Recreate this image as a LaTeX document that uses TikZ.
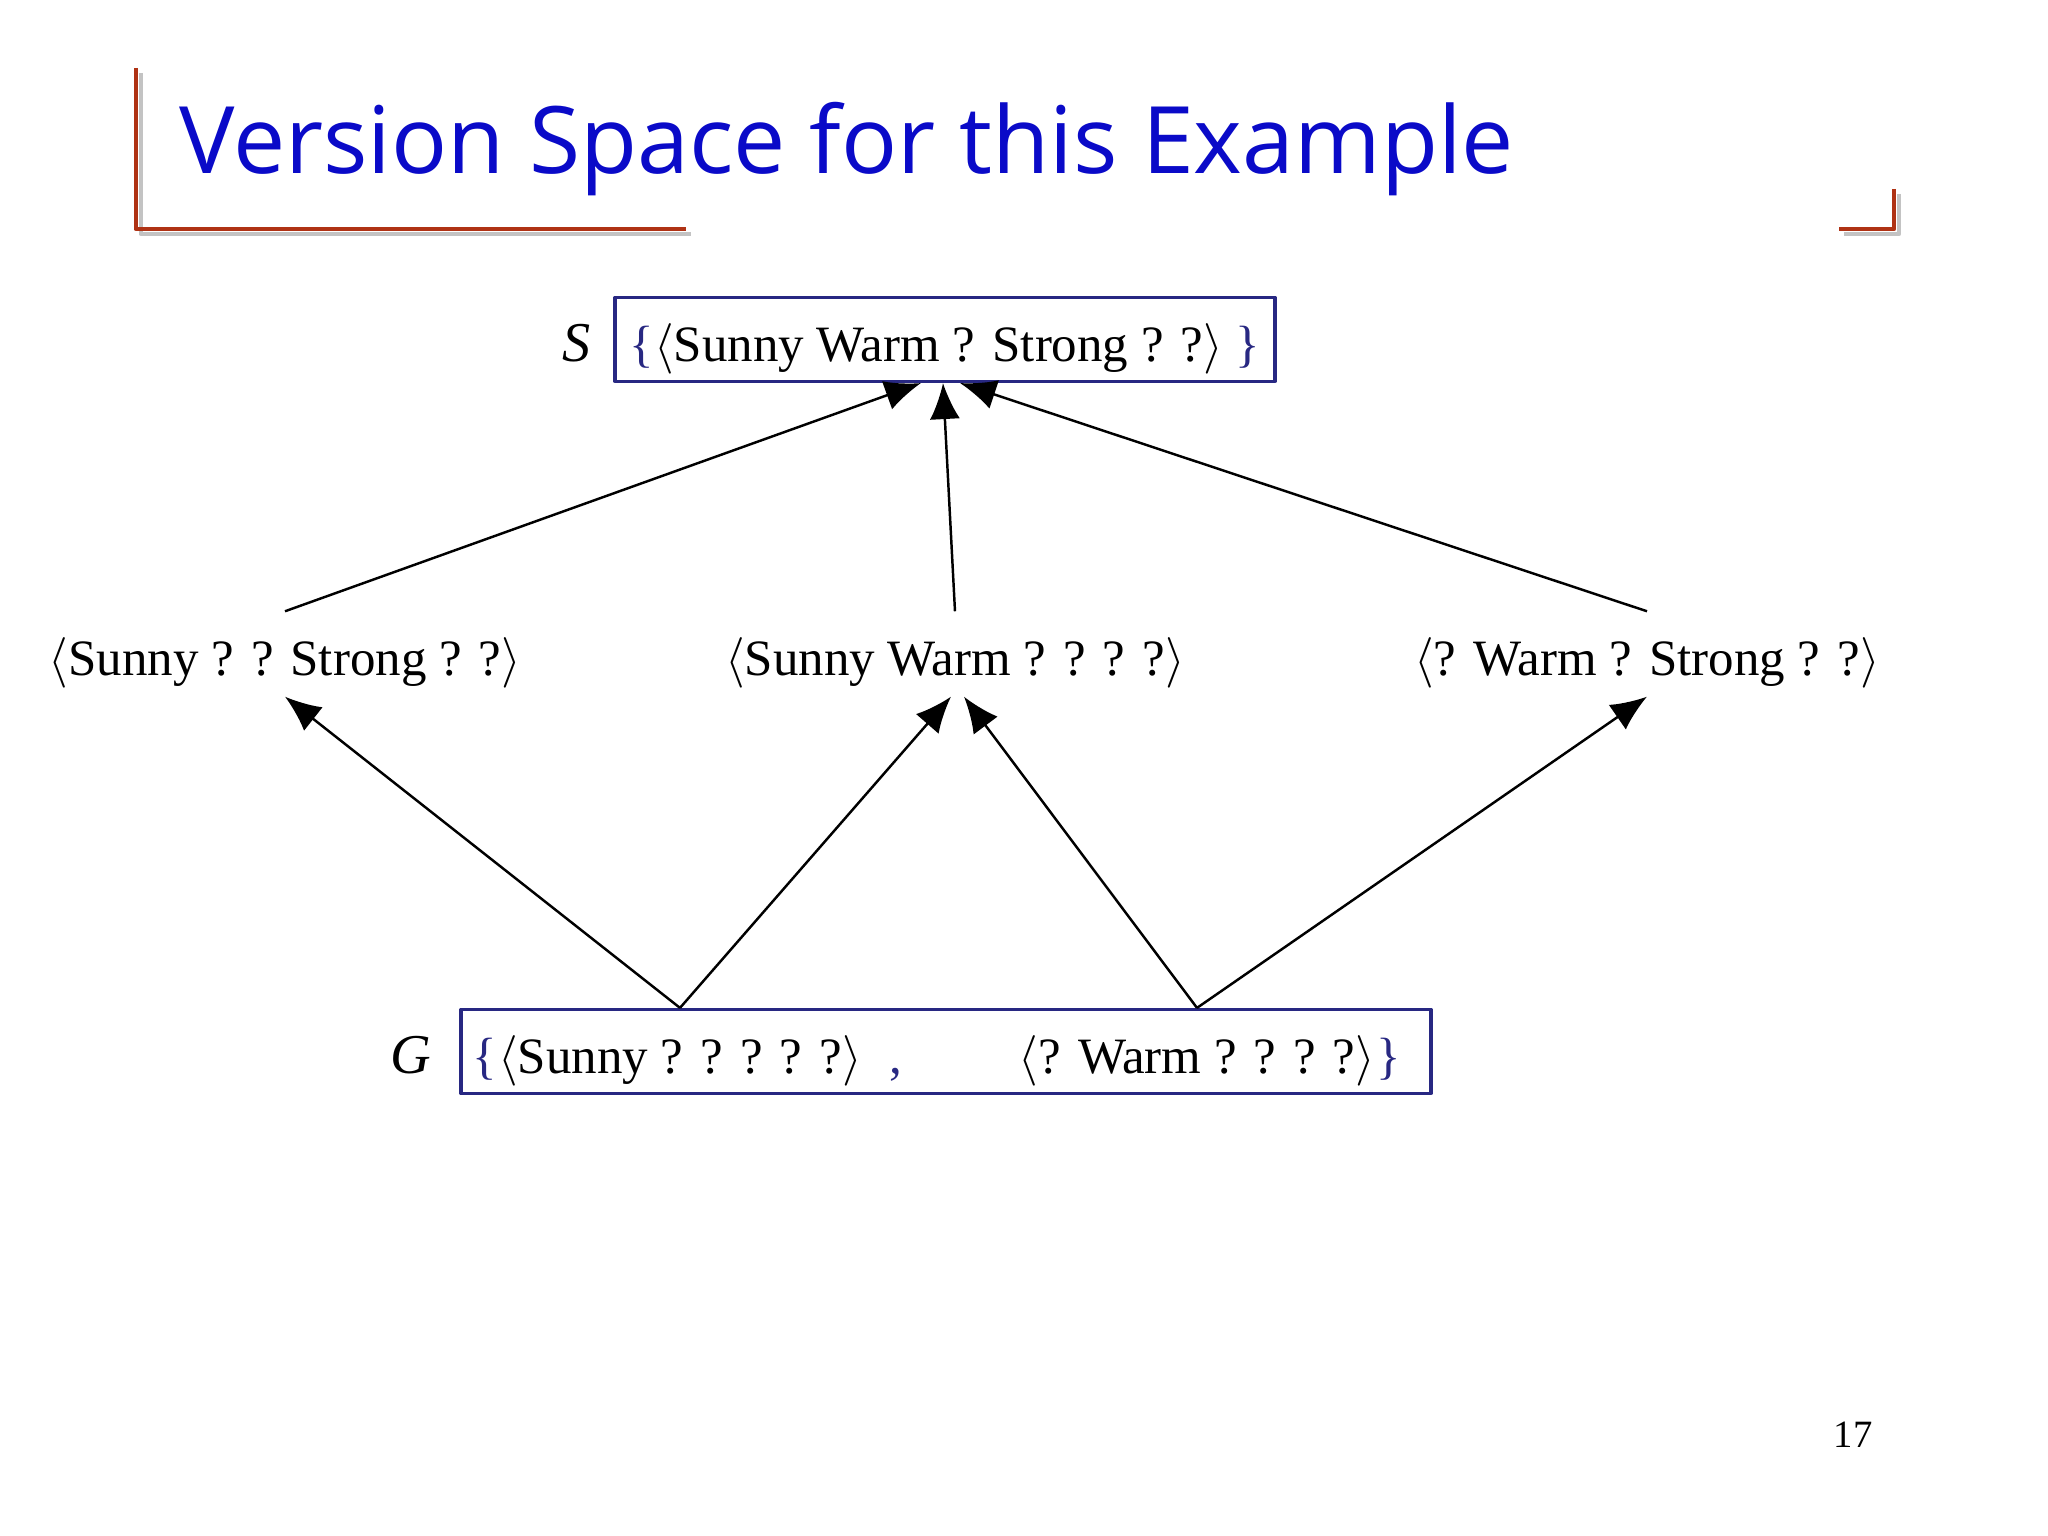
\documentclass[tikz,border=0pt]{standalone}
\usepackage{fontspec}
\setmainfont{Liberation Serif}
\newfontfamily\titlefont{Open Sans}
\usetikzlibrary{positioning,arrows.meta}
\definecolor{titleblue}{RGB}{10,10,200}
\definecolor{rulered}{RGB}{175,50,20}
\definecolor{shadowgray}{RGB}{195,195,195}
\definecolor{boxblue}{RGB}{40,40,130}
\begin{document}
\begin{tikzpicture}[line join=round, >={Latex[length=3.6mm,width=3mm]},
	hyp/.style={inner sep=0pt, text height=0.64cm, text depth=0.2cm, font=\fontsize{14.5}{17}\selectfont},
	setbox/.style={hyp, draw=boxblue, line width=0.9pt},
	setlabel/.style={hyp, font=\fontsize{16}{18}\selectfont\itshape},
	brace/.style={hyp, text=boxblue},
	rule/.style={line width=1.4pt},
	link/.style={->, line width=0.7pt}]
	\useasboundingbox (0,0) rectangle (20.48,15.36);
	\draw[rule, shadowgray] (1.41,14.63) -- (1.41,13.02) -- (6.91,13.02);
	\draw[rule, rulered] (1.36,14.68) -- (1.36,13.07) -- (6.86,13.07);
	\draw[rule, shadowgray] (18.99,13.42) -- (18.99,13.02) -- (18.44,13.02);
	\draw[rule, rulered] (18.94,13.47) -- (18.94,13.07) -- (18.39,13.07);
	\node[anchor=base west, inner sep=0pt, text=titleblue, font=\titlefont\fontsize{26.5}{32}\selectfont] (title) at (1.79,13.62) {Version Space for this Example};
	
	\node[setbox, minimum width=6.6cm] (S) at (9.45,11.965) {\textcolor{boxblue}{\{}$\langle$Sunny Warm ? Strong ? ?$\rangle$ \textcolor{boxblue}{\}}};
	\node[setlabel, left=0.22cm of S] (slabel) {S};
	
	\node[hyp] (h1) at (2.85,8.82) {$\langle$Sunny ? ? Strong ? ?$\rangle$};
	\node[hyp] (h2) at (9.55,8.82) {$\langle$Sunny Warm ? ? ? ?$\rangle$};
	\node[hyp] (h3) at (16.47,8.82) {$\langle$? Warm ? Strong ? ?$\rangle$};
	
	\node[setbox, minimum width=9.7cm] (G) at (9.46,4.845) {};
	\node[hyp] (g1) at (6.80,4.845) {$\langle$Sunny ? ? ? ? ?$\rangle$};
	\node[hyp] (g2) at (11.97,4.845) {$\langle$? Warm ? ? ? ?$\rangle$};
	\node[brace, left=0pt of g1] (gl) {\{};
	\node[brace, right=0pt of g2] (gr) {\}};
	\node[brace] (comma) at (8.96,4.845) {,};
	\node[setlabel, left=0.28cm of G] (glabel) {G};
	
	\draw[link] (h1.north) -- ([xshift=-0.24cm]S.south);
	\draw[link] (h2.north) -- ([xshift=-0.02cm]S.south);
	\draw[link] (h3.north) -- ([xshift=0.15cm]S.south);
	\draw[link] (g1 |- G.north) -- (h1.south);
	\draw[link] (g1 |- G.north) -- ([xshift=-0.04cm]h2.south);
	\draw[link] (g2 |- G.north) -- ([xshift=0.09cm]h2.south);
	\draw[link] (g2 |- G.north) -- (h3.south);
	
	\node[font=\fontsize{11}{13}\selectfont] (page) at (18.53,1.01) {17};
\end{tikzpicture}
\end{document}
